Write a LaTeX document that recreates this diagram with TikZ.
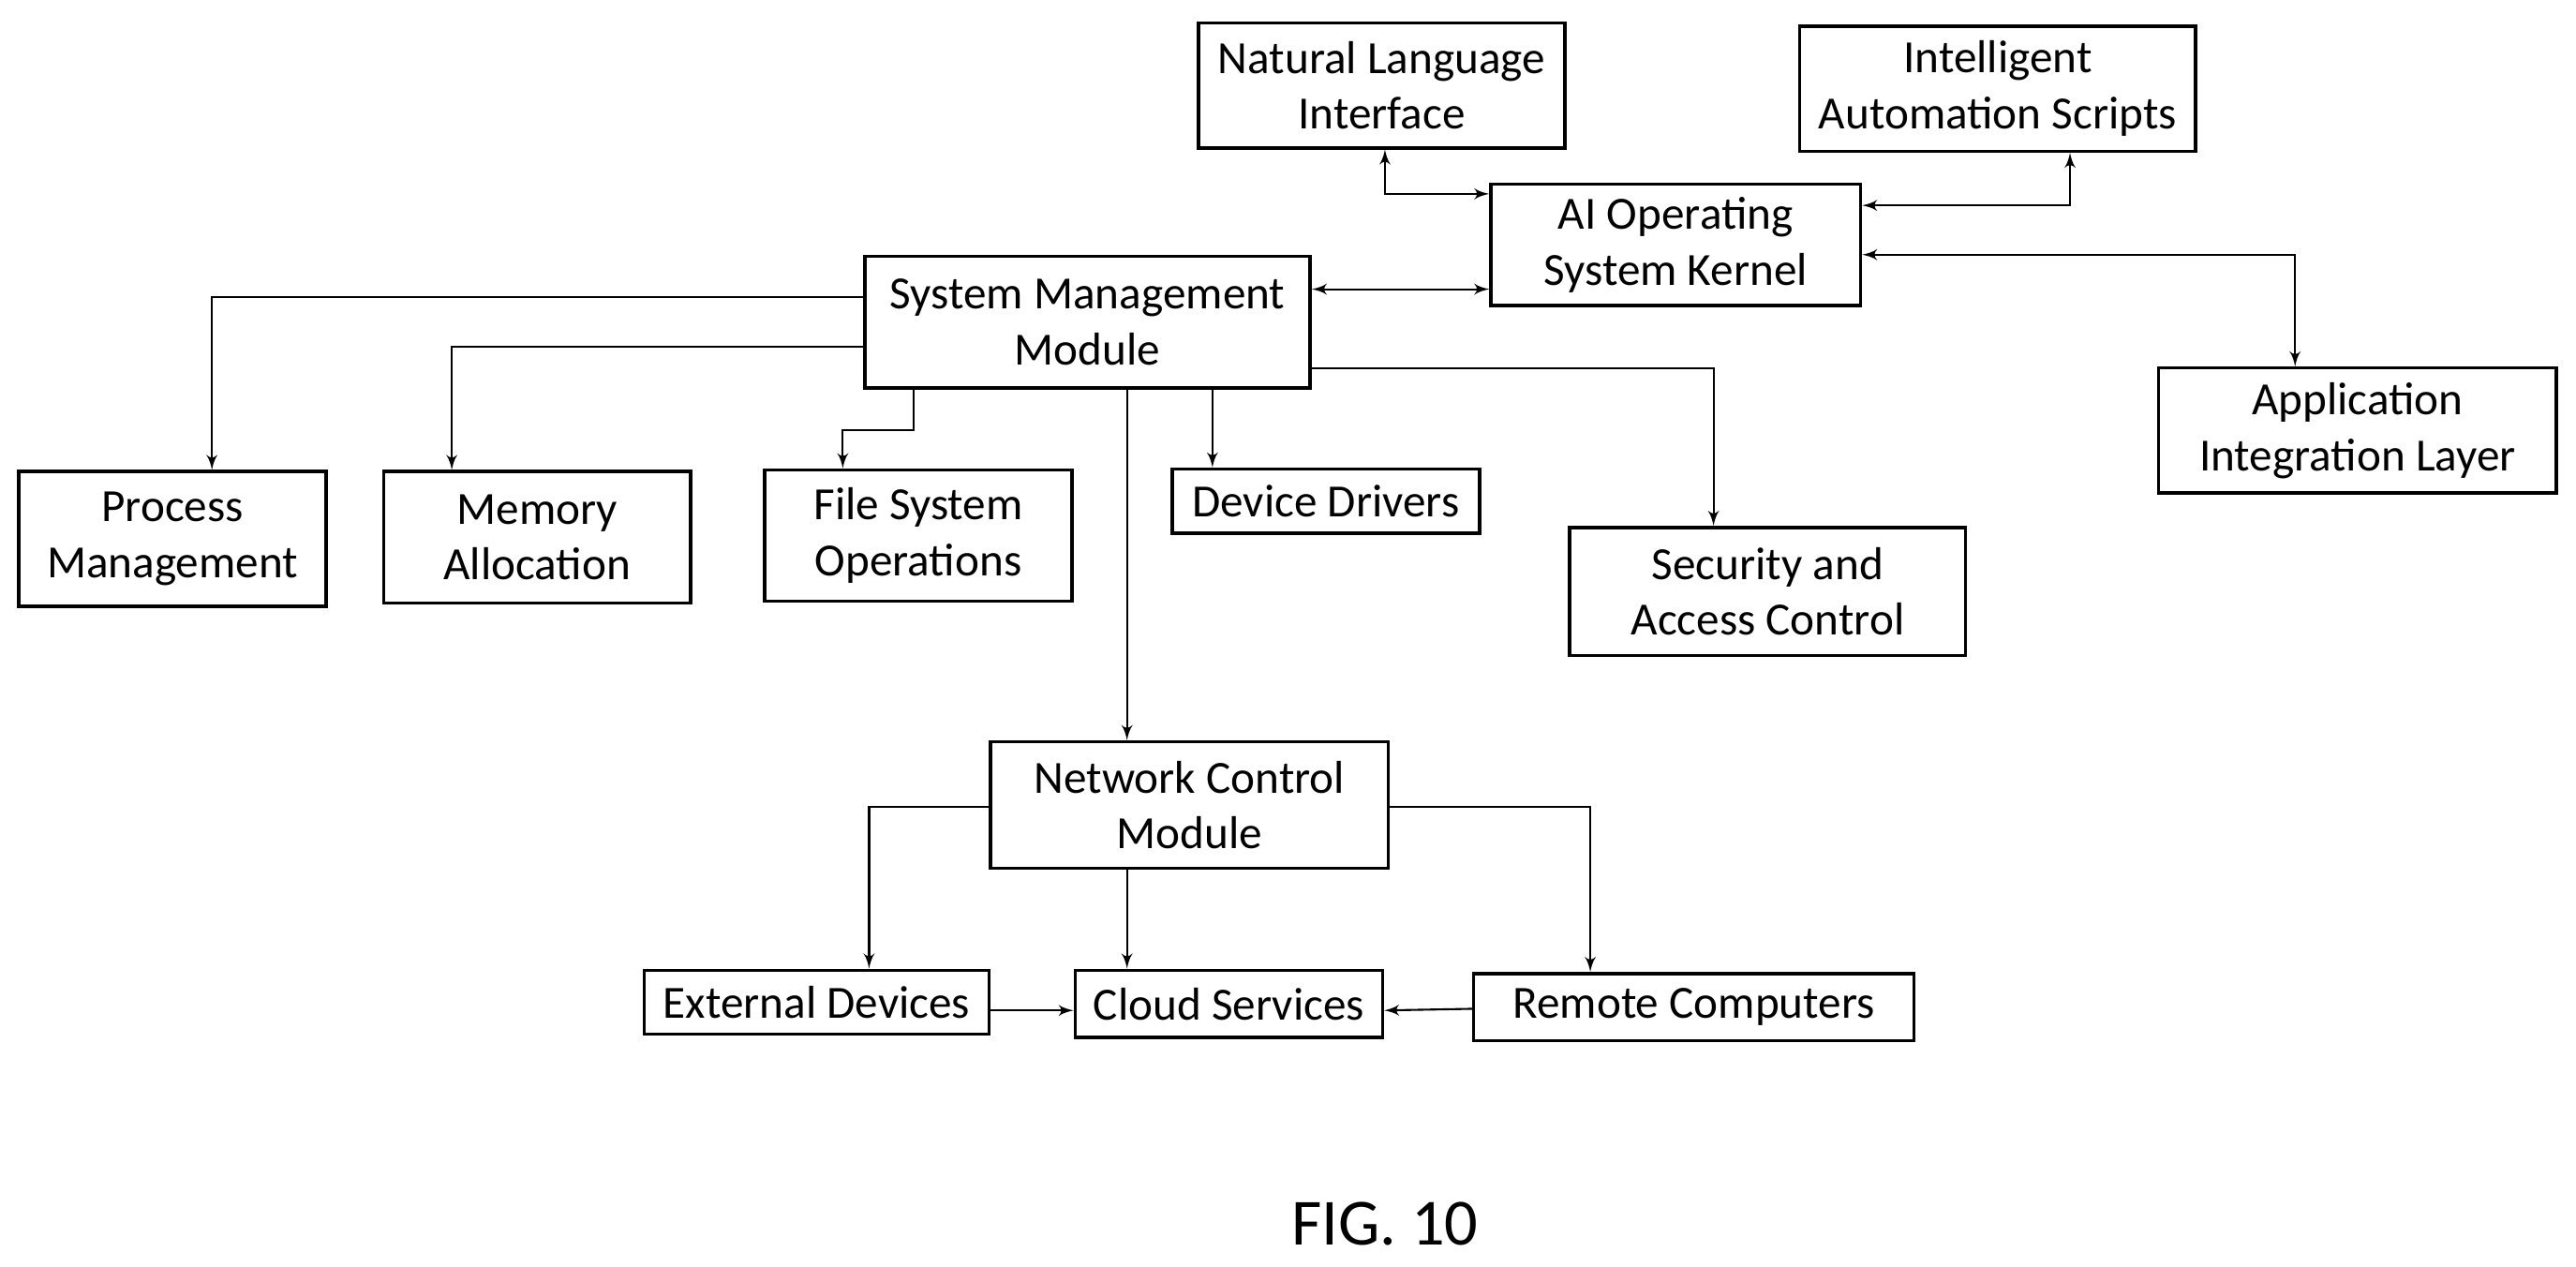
\documentclass[tikz,border=0pt]{standalone}
\usepackage{fontspec}
\setmainfont{Carlito}
\usepackage{tikz}
\usetikzlibrary{arrows,calc}
\def\px{0.01753cm}
\begin{document}
\begin{tikzpicture}[x=0.01753cm,y=-0.01753cm]
    \tikzset{block/.style = {draw,line width=1pt,align=center,inner sep=0pt,
        font=\fontsize{14}{17}\selectfont}}
    \tikzset{edge/.style = {->,> = latex',line width=0.6pt}}
    \tikzset{dedge/.style = {<->,> = latex',line width=0.6pt}}
    \useasboundingbox (0,0) rectangle (1568,771);
    % blocks
    \node[block,minimum width=223*\px,minimum height=76*\px] (NLI) at (841,52) {Natural Language\\Interface};
    \node[block,minimum width=241*\px,minimum height=76*\px] (IAS) at (1216,54) {Intelligent\\Automation Scripts};
    \node[block,minimum width=225*\px,minimum height=74*\px] (kernel) at (1020,149) {AI Operating\\System Kernel};
    \node[block,minimum width=271*\px,minimum height=80*\px] (SMM) at (662,196) {System Management\\Module};
    \node[block,minimum width=242*\px,minimum height=76*\px] (AIL) at (1435,262) {Application\\Integration Layer};
    \node[block,minimum width=187*\px,minimum height=82*\px] (proc) at (105,328) {Process\\Management};
    \node[block,minimum width=187*\px,minimum height=80*\px] (mem) at (327,327) {Memory\\Allocation};
    \node[block,minimum width=187*\px,minimum height=80*\px] (file) at (559,326) {File System\\Operations};
    \node[block,minimum width=187*\px,minimum height=39*\px] (dev) at (807,305) {Device Drivers};
    \node[block,minimum width=241*\px,minimum height=78*\px] (sec) at (1076,360) {Security and\\Access Control};
    \node[block,minimum width=242*\px,minimum height=77*\px] (net) at (724,490) {Network Control\\Module};
    \node[block,minimum width=210*\px,minimum height=39*\px] (ext) at (497,610) {External Devices};
    \node[block,minimum width=187*\px,minimum height=41*\px] (cloud) at (748,611) {Cloud Services};
    \node[block,minimum width=268*\px,minimum height=41*\px] (remote) at (1031,613) {Remote Computers};
    \node[font=\fontsize{20}{24}\selectfont] (fig) at (843,745) {FIG. 10};
    % kernel links
    \draw[dedge] (NLI.south -| 843,0) |- (kernel.west |- 0,118);
    \draw[dedge] (IAS.south -| 1260,0) |- (kernel.east |- 0,125);
    \draw[dedge] (kernel.east |- 0,155) -| (AIL.north -| 1397,0);
    \draw[dedge] (SMM.east |- 0,176) -- (kernel.west |- 0,176);
    % management links
    \draw[edge] (SMM.west |- 0,181) -| (proc.north -| 129,0);
    \draw[edge] (SMM.west |- 0,211) -| (mem.north -| 275,0);
    \draw[edge] (SMM.south -| 556,0) |- (535,262) -| (file.north -| 513,0);
    \draw[edge] (SMM.south -| 738,0) -- (dev.north -| 738,0);
    \draw[edge] (SMM.east |- 0,224) -| (sec.north -| 1043,0);
    \draw[edge] (SMM.south -| 686,0) -- (net.north -| 686,0);
    % network links
    \draw[edge] (net.west |- 0,491) -| (ext.north -| 529,0);
    \draw[edge] (net.south -| 686,0) -- (cloud.north -| 686,0);
    \draw[edge] (net.east |- 0,491) -| (remote.north -| 968,0);
    \draw[edge] (ext.east |- 0,615) -- (cloud.west |- 0,615);
    \draw[edge] (remote.west |- 0,614) -- (cloud.east |- 0,615);
\end{tikzpicture}
\end{document}
